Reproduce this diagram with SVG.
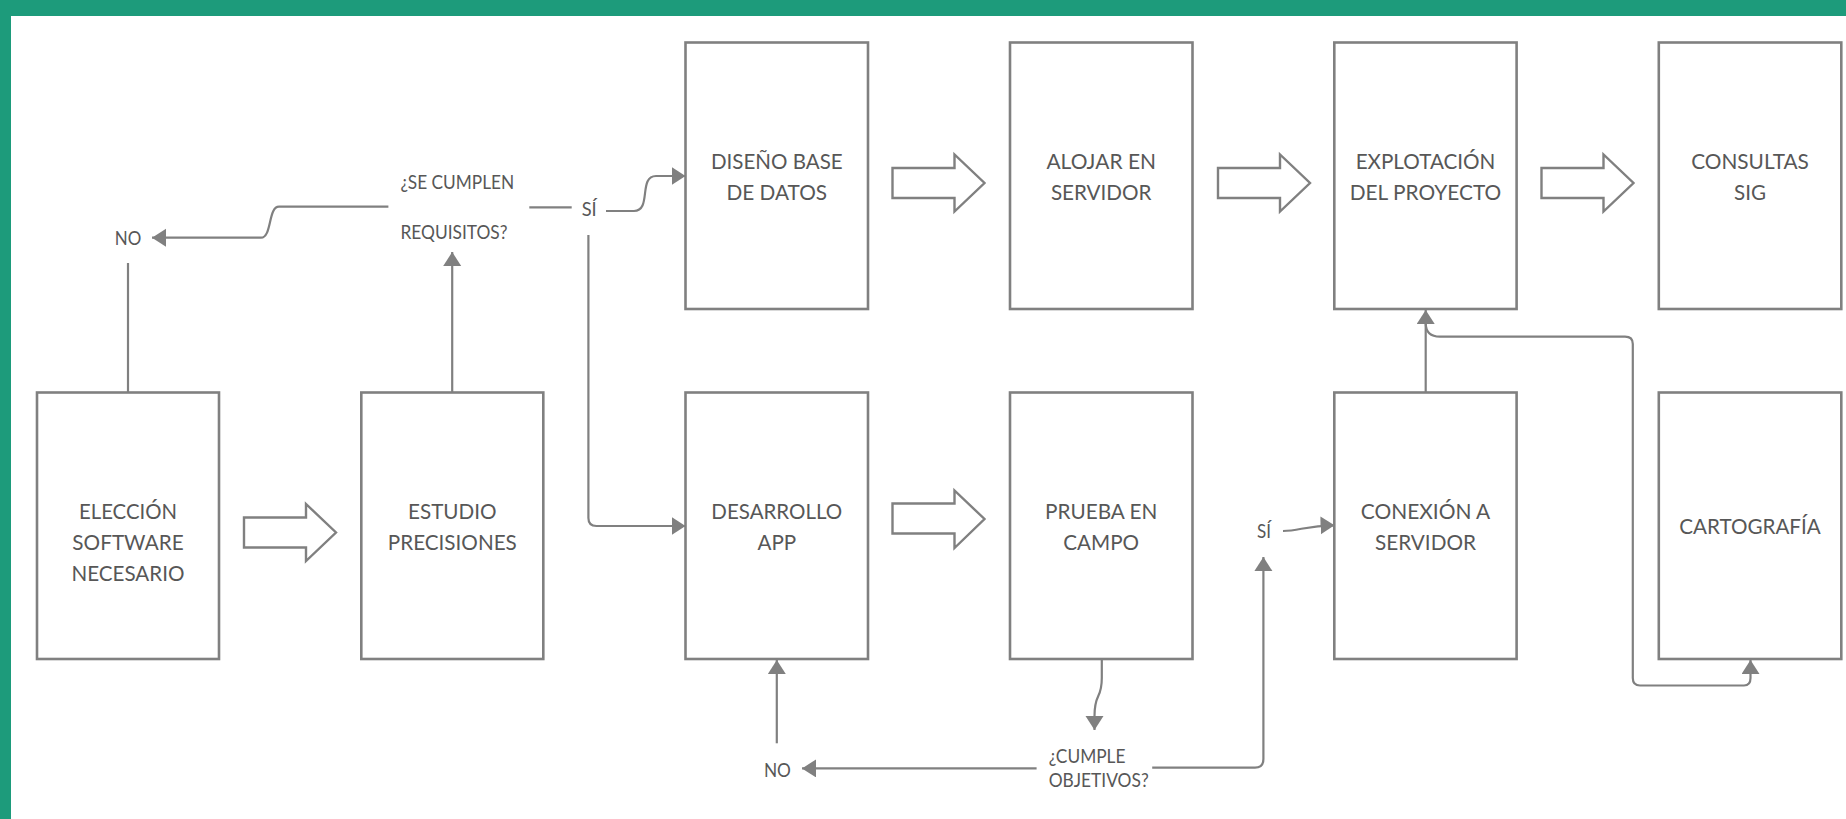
<svg xmlns="http://www.w3.org/2000/svg" width="1846" height="819" viewBox="0 0 1846 819">
  <style>
    .box { fill: #ffffff; stroke: #808080; stroke-width: 2.6; }
    .big { fill: #ffffff; stroke: #808080; stroke-width: 2.4; stroke-linejoin: miter; }
    .con { fill: none; stroke: #808080; stroke-width: 2.2; }
    .t { font-family: Lato, "Open Sans", "Liberation Sans", sans-serif; font-size: 22px; fill: #575757; text-anchor: middle; }
    .l { font-family: Lato, "Open Sans", "Liberation Sans", sans-serif; font-size: 20px; fill: #575757; }
  </style>
  <defs>
    <marker id="ah" markerUnits="userSpaceOnUse" markerWidth="16" markerHeight="20" refX="14" refY="9" orient="auto">
      <path d="M0,0 L14,9 L0,18 Z" fill="#808080"/>
    </marker>
  </defs>
  <rect x="0" y="0" width="1846" height="819" fill="#ffffff"/>
  <rect x="0" y="0" width="1846" height="16" fill="#1d9b7b"/>
  <rect x="0" y="0" width="11" height="819" fill="#1d9b7b"/>

  <g id="connectors">
    <path class="con" d="M128,392 V263"/>
    <path class="con" d="M452.2,392 V252" marker-end="url(#ah)"/>
    <path class="con" d="M388.4,206.7 H279 C268,206.7 272,237.7 261,237.7 H152" marker-end="url(#ah)"/>
    <path class="con" d="M529.3,207.3 H571.7"/>
    <path class="con" d="M606,211 H634 C652,211 638,176 656,176 H685.5" marker-end="url(#ah)"/>
    <path class="con" d="M588.4,235 V518 Q588.4,526 596.4,526 H685.5" marker-end="url(#ah)"/>
    <path class="con" d="M1101.8,660 V678 C1101.8,700 1094.5,692 1094.5,716 V730" marker-end="url(#ah)"/>
    <path class="con" d="M1036.6,768.4 H802" marker-end="url(#ah)"/>
    <path class="con" d="M776.8,743.3 V660" marker-end="url(#ah)"/>
    <path class="con" d="M1152.2,767.7 H1255 Q1263.4,767.7 1263.4,759 V557" marker-end="url(#ah)"/>
    <path class="con" d="M1283,531 C1300,531 1305,525.5 1334.5,525.3" marker-end="url(#ah)"/>
    <path class="con" d="M1425.7,392 V310" marker-end="url(#ah)"/>
    <path class="con" d="M1425.7,323 Q1425.7,336.7 1440,336.7 H1625 Q1632.8,336.7 1632.8,344 V678 Q1632.8,685.5 1640,685.5 H1744 Q1750.5,685.5 1750.5,678 V660" marker-end="url(#ah)"/>

    <polygon class="big" points="244,517.5 306,517.5 306,504 336,532.5 306,561 306,547.5 244,547.5"/>
    <polygon class="big" points="892.5,503.5 954.5,503.5 954.5,490.5 984.5,519 954.5,548 954.5,533.5 892.5,533.5"/>
    <polygon class="big" points="892.5,168 954.5,168 954.5,154.5 984.5,183 954.5,211.5 954.5,198 892.5,198"/>
    <polygon class="big" points="1218,168 1280,168 1280,154.5 1310,183 1280,211.5 1280,198 1218,198"/>
    <polygon class="big" points="1541.5,168 1603.5,168 1603.5,154.5 1633.5,183 1603.5,211.5 1603.5,198 1541.5,198"/>

    <text class="l" x="128" y="245" text-anchor="middle" textLength="26.5" lengthAdjust="spacingAndGlyphs">NO</text>
    <text class="l" x="400.4" y="189.3" textLength="113.8" lengthAdjust="spacingAndGlyphs">¿SE CUMPLEN</text>
    <text class="l" x="400.4" y="239.3" textLength="107.1" lengthAdjust="spacingAndGlyphs">REQUISITOS?</text>
    <text class="l" x="581.7" y="216" textLength="15" lengthAdjust="spacingAndGlyphs">SÍ</text>
    <text class="l" x="1257" y="538.3" textLength="14" lengthAdjust="spacingAndGlyphs">SÍ</text>
    <text class="l" x="1048.7" y="763.3" textLength="76.8" lengthAdjust="spacingAndGlyphs">¿CUMPLE</text>
    <text class="l" x="1048.7" y="787.3" textLength="100" lengthAdjust="spacingAndGlyphs">OBJETIVOS?</text>
    <text class="l" x="777.4" y="776.7" text-anchor="middle" textLength="27" lengthAdjust="spacingAndGlyphs">NO</text>
  </g>

  <g id="n-eleccion">
    <rect class="box" x="37" y="392.5" width="182" height="266.5"/>
    <text class="t" x="128" y="519.3" textLength="98" lengthAdjust="spacingAndGlyphs">ELECCIÓN</text>
    <text class="t" x="128" y="550" textLength="111.3" lengthAdjust="spacingAndGlyphs">SOFTWARE</text>
    <text class="t" x="128" y="580.6" textLength="113" lengthAdjust="spacingAndGlyphs">NECESARIO</text>
  </g>
  <g id="n-estudio">
    <rect class="box" x="361.3" y="392.5" width="182" height="266.5"/>
    <text class="t" x="452.3" y="519.3" textLength="88.6" lengthAdjust="spacingAndGlyphs">ESTUDIO</text>
    <text class="t" x="452.3" y="550" textLength="129" lengthAdjust="spacingAndGlyphs">PRECISIONES</text>
  </g>
  <g id="n-diseno">
    <rect class="box" x="685.5" y="42.5" width="182.5" height="266.5"/>
    <text class="t" x="776.8" y="169" textLength="131.8" lengthAdjust="spacingAndGlyphs">DISEÑO BASE</text>
    <text class="t" x="776.8" y="199.5" textLength="100.6" lengthAdjust="spacingAndGlyphs">DE DATOS</text>
  </g>
  <g id="n-alojar">
    <rect class="box" x="1010" y="42.5" width="182.5" height="266.5"/>
    <text class="t" x="1101.2" y="169" textLength="109.5" lengthAdjust="spacingAndGlyphs">ALOJAR EN</text>
    <text class="t" x="1101.2" y="199.5" textLength="100.6" lengthAdjust="spacingAndGlyphs">SERVIDOR</text>
  </g>
  <g id="n-explotacion">
    <rect class="box" x="1334.3" y="42.5" width="182.3" height="266.5"/>
    <text class="t" x="1425.5" y="169" textLength="139.7" lengthAdjust="spacingAndGlyphs">EXPLOTACIÓN</text>
    <text class="t" x="1425.5" y="199.8" textLength="151.5" lengthAdjust="spacingAndGlyphs">DEL PROYECTO</text>
  </g>
  <g id="n-consultas">
    <rect class="box" x="1658.8" y="42.5" width="182.5" height="266.5"/>
    <text class="t" x="1750" y="169" textLength="117.7" lengthAdjust="spacingAndGlyphs">CONSULTAS</text>
    <text class="t" x="1750" y="199.8" textLength="32" lengthAdjust="spacingAndGlyphs">SIG</text>
  </g>
  <g id="n-desarrollo">
    <rect class="box" x="685.5" y="392.5" width="182.5" height="266.5"/>
    <text class="t" x="776.8" y="519.3" textLength="130.9" lengthAdjust="spacingAndGlyphs">DESARROLLO</text>
    <text class="t" x="776.8" y="550" textLength="38.7" lengthAdjust="spacingAndGlyphs">APP</text>
  </g>
  <g id="n-prueba">
    <rect class="box" x="1010" y="392.5" width="182.5" height="266.5"/>
    <text class="t" x="1101.2" y="519.3" textLength="112.2" lengthAdjust="spacingAndGlyphs">PRUEBA EN</text>
    <text class="t" x="1101.2" y="550" textLength="75.7" lengthAdjust="spacingAndGlyphs">CAMPO</text>
  </g>
  <g id="n-conexion">
    <rect class="box" x="1334.3" y="392.5" width="182.3" height="266.5"/>
    <text class="t" x="1425.5" y="519.3" textLength="129.6" lengthAdjust="spacingAndGlyphs">CONEXIÓN A</text>
    <text class="t" x="1425.5" y="550" textLength="101" lengthAdjust="spacingAndGlyphs">SERVIDOR</text>
  </g>
  <g id="n-cartografia">
    <rect class="box" x="1658.8" y="392.5" width="182.5" height="266.5"/>
    <text class="t" x="1750" y="534" textLength="141.6" lengthAdjust="spacingAndGlyphs">CARTOGRAFÍA</text>
  </g>
</svg>
